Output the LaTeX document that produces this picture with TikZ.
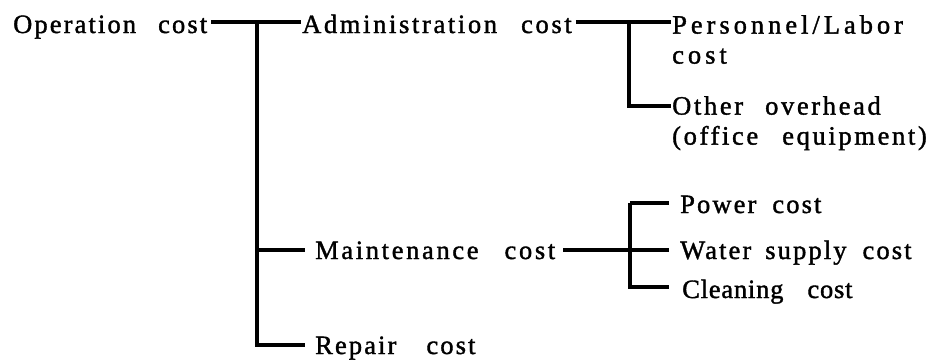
\documentclass[tikz,border=0pt]{standalone}
\usepackage{fontspec}
\setmainfont{Liberation Serif}[LetterSpace=8, FakeBold=1.4]
\newfontfamily\tightfont{Liberation Serif}[LetterSpace=3, FakeBold=1.4]
\newfontfamily\midfont{Liberation Serif}[LetterSpace=10, FakeBold=1.4]
\newfontfamily\widerfont{Liberation Serif}[LetterSpace=15, FakeBold=1.4]
\begin{document}
\begin{tikzpicture}[x=1pt,y=-1pt,
  lbl/.style={anchor=base west, inner sep=0pt, font=\fontsize{26.5}{30}\selectfont},
  blk/.style={anchor=north west, inner sep=0pt, align=left, font=\fontsize{26.5}{30}\selectfont},
  link/.style={line width=3.2pt, line join=miter}]
\useasboundingbox (0,0) rectangle (944,359);
% texts
\node[lbl] (op)  at (13,33)  {Operation\hspace{22pt}cost};
\node[lbl] (adm) at (302,33) {\midfont Administration\hspace{24pt}cost};
\node[blk] (pers) at (672,15) {\widerfont Personnel/Labor\\\widerfont cost};
\node[blk] (oth) at (672,96) {\midfont Other\hspace{22pt}overhead\\\midfont (office\hspace{24pt}equipment)};
\node[lbl] (mnt) at (315,259) {\midfont Maintenance\hspace{26pt}cost};
\node[lbl] (rep) at (315,354) {Repair\hspace{30pt}cost};
\node[lbl] (pow) at (680,213) {Power\hspace{16pt}cost};
\node[lbl] (wat) at (680,259) {Water\hspace{14pt}supply\hspace{16pt}cost};
\node[lbl] (cln) at (682,298) {\tightfont Cleaning\hspace{24pt}cost};
% junctions
\coordinate (j1) at (257,22);
\coordinate (mt) at (257,250);
\coordinate (rb) at (257,345);
\coordinate (j2) at (629,22);
\coordinate (ob) at (629,106);
\coordinate (j3) at (630,250);
\coordinate (pw) at (630,203);
\coordinate (cl) at (630,287);
% connectors
\draw[link] ([xshift=4pt]op.east |- j1) -- ([xshift=-1pt]adm.west |- j1);
\draw[link] (j1) -- (rb) -- ([xshift=-10pt]rep.west |- rb);
\draw[link] (mt) -- ([xshift=-10pt]mnt.west |- mt);
\draw[link] ([xshift=4pt]adm.east |- j2) -- ([xshift=-1pt]pers.west |- j2);
\draw[link] (j2) -- (ob) -- ([xshift=-1pt]oth.west |- ob);
\draw[link] ([xshift=8pt]mnt.east |- j3) -- ([xshift=-11pt]wat.west |- j3);
\draw[link] (pw) -- (cl) -- ([xshift=-13pt]cln.west |- cl);
\draw[link] (pw) -- ([xshift=-11pt]pow.west |- pw);
\end{tikzpicture}
\end{document}
